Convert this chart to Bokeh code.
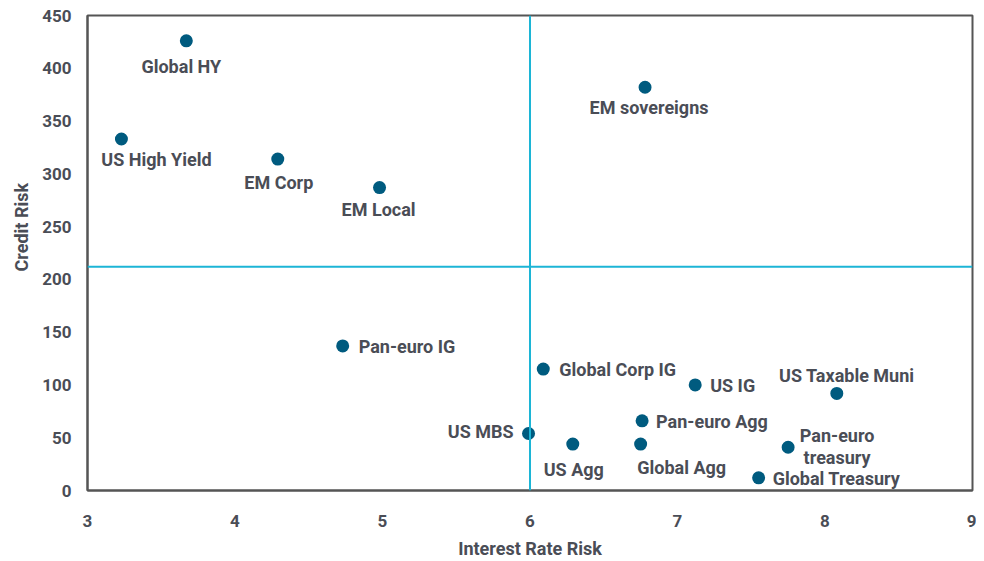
from bokeh.plotting import figure
from bokeh.models import ColumnDataSource, Span, Range1d, FixedTicker, Title
from bokeh.core.properties import value
from bokeh.embed import file_html
from bokeh.resources import INLINE

names = ["Global HY", "US High Yield", "EM Corp", "EM Local", "EM sovereigns",
         "Pan-euro  IG", "Global Corp IG", "US  IG", "US Taxable Muni",
         "Pan-euro Agg", "US MBS", "US Agg", "Global Agg",
         "Pan-euro\ntreasury", "Global Treasury"]
interest_rate_risk = [3.67, 3.23, 4.29, 4.98, 6.78, 4.73, 6.09, 7.12, 8.08,
                      6.76, 5.99, 6.29, 6.75, 7.75, 7.55]
credit_risk = [426, 333, 314, 287, 382, 137, 115, 100, 92,
               66, 54, 44, 44, 41, 12]
x_ticks = [3, 4, 5, 6, 7, 8, 9]
y_ticks = [0, 50, 100, 150, 200, 250, 300, 350, 400, 450]
x_split = 6
y_split = 212
x_title = "Interest Rate Risk"
y_title = "Credit Risk"

# label layout (screen px offsets and alignment)
dx = [-5, 35, 1, -1, 4, 16, 16, 15, 10, 14, -15, 1, 41, 49, 14]
dy = [26, 20, 23, 22, 20, 1, 0, 1, -18, 1, -2, 25, 23, -1, 1]
align = ["center", "center", "center", "center", "center", "left", "left", "left",
         "center", "left", "right", "center", "center", "center", "left"]

src = ColumnDataSource(dict(x=interest_rate_risk, y=credit_risk, name=names,
                            dx=dx, dy=dy, align=align))

FONT = "Roboto"
TXT = "#4a4d56"

p = figure(width=976, height=561, output_backend="svg", toolbar_location=None,
           x_range=Range1d(3, 9), y_range=Range1d(0, 450),
           min_border_left=86, min_border_right=4, min_border_top=15, min_border_bottom=71)
p.xgrid.visible = False
p.ygrid.visible = False
p.outline_line_color = "#555555"
p.outline_line_width = 2
p.background_fill_color = "white"

for ax in (p.xaxis[0], p.yaxis[0]):
    ax.axis_line_color = "#555555"
    ax.axis_line_width = 2
    ax.major_tick_line_color = None
    ax.minor_tick_line_color = None
    ax.major_label_text_font = FONT
    ax.major_label_text_font_style = "bold"
    ax.major_label_text_font_size = "17px"
    ax.major_label_text_color = TXT
    ax.axis_label_text_font = FONT
    ax.axis_label_text_font_style = "bold"
    ax.axis_label_text_font_size = "18px"
    ax.axis_label_text_color = TXT

p.xaxis.ticker = FixedTicker(ticks=x_ticks)
p.yaxis.ticker = FixedTicker(ticks=y_ticks)
p.xaxis.axis_label = x_title
p.xaxis.major_label_standoff = 18
p.xaxis.axis_label_standoff = 8
p.yaxis.major_label_standoff = 10

p.add_layout(Title(text=y_title, align="left", offset=219, standoff=16,
                   text_font=FONT, text_font_style="bold", text_font_size="18px",
                   text_color=TXT), "left")

quad = "#1cb5d6"
p.add_layout(Span(location=x_split, dimension="height", line_color=quad, line_width=2))
p.add_layout(Span(location=y_split, dimension="width", line_color=quad, line_width=2))

p.scatter("x", "y", source=src, size=13, fill_color="#005b7f", line_color=None)
p.text("x", "y", text="name", source=src, x_offset="dx", y_offset="dy",
       text_align="align", text_baseline="middle",
       text_font=value(FONT), text_font_style="bold", text_font_size="18px",
       text_color=TXT, text_line_height=1.05)

open("out.html", "w").write(file_html(p, INLINE))
